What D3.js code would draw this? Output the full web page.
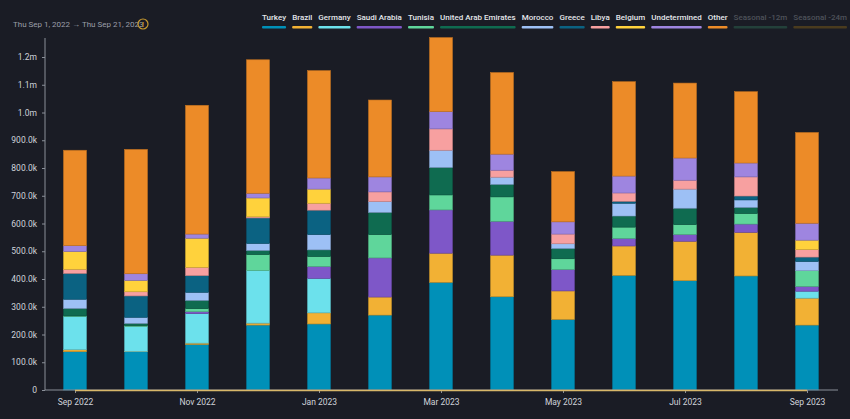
<!DOCTYPE html>
<html><head><meta charset="utf-8">
<script src="https://cdn.jsdelivr.net/npm/d3@7"></script>
<style>
body{margin:0;background:#1a1c25;}
text{font-family:Roboto,"Noto Sans",sans-serif;}
</style></head>
<body><svg width="850" height="419"></svg>
<script>
var months = ["Sep 2022","Oct 2022","Nov 2022","Dec 2022","Jan 2023","Feb 2023","Mar 2023","Apr 2023","May 2023","Jun 2023","Jul 2023","Aug 2023","Sep 2023"];
var seriesNames = ["Turkey","Brazil","Germany","Saudi Arabia","Tunisia","United Arab Emirates","Morocco","Greece","Libya","Belgium","Undetermined","Other"];
var ghostNames = ["Seasonal -12m","Seasonal -24m"];
// values in thousands, one per month
var turkey      = [138,138,164,234,238,270,388,336,254,413,394,411,234];
var brazil      = [7,1,5,7,40,65,105,150,103,106,142,157,97];
var germany     = [120,90,106,190,124,0,0,0,0,0,0,0,25];
var saudi       = [0,0,7,0,43,141,156,122,77,27,24,30,17];
var tunisia     = [2,3,11,57,36,84,54,88,39,41,36,38,57];
var uae         = [27,8,30,15,24,80,99,45,37,40,59,22,0];
var morocco     = [33,22,29,25,55,39,62,26,17,46,69,27,33];
var greece      = [93,77,60,92,88,0,0,0,0,7,0,14,16];
var libya       = [15,15,30,4,25,35,77,25,35,30,32,69,27];
var belgium     = [64,41,105,68,51,0,0,0,0,0,0,0,34];
var undetermined= [21,24,15,17,40,54,62,58,44,61,80,50,61];
var other       = [344,448,464,481,387,277,267,294,181,340,270,257,327];
var tickLabels = ["0","100.0k","200.0k","300.0k","400.0k","500.0k","600.0k","700.0k","800.0k","900.0k","1.0m","1.1m","1.2m"];
var colors = ["#0090b8","#f2b134","#6ce1ec","#7e57c8","#5fd69b","#0f6b50","#9dc0f5","#0b6282","#f7a0a0","#ffd23c","#9e85e0","#ec8b28"];
var ghostColors = ["#23403a","#4a3b1e"];

var all = [turkey,brazil,germany,saudi,tunisia,uae,morocco,greece,libya,belgium,undetermined,other];
var rows = months.map(function(m,i){
  var r = {month:m};
  seriesNames.forEach(function(s,j){ r[s] = all[j][i]; });
  return r;
});

var svg = d3.select("svg");
svg.append("rect").attr("width",850).attr("height",419).attr("fill","#1a1c25");

var x = d3.scalePoint().domain(months).range([44.5,837.5]).padding(0.5);
var y = d3.scaleLinear().domain([0,1200]).range([390,57]);
var bw = 23;

var stack = d3.stack().keys(seriesNames)(rows);

svg.append("g").selectAll("g").data(stack).enter().append("g")
  .attr("fill",function(d,i){ return colors[i]; })
  .attr("stroke",function(d,i){ return d3.color(colors[i]).darker(0.6); })
  .attr("stroke-width",0.6)
  .selectAll("rect").data(function(d){ return d; }).enter().append("rect")
  .attr("x",function(d){ return x(d.data.month)-bw/2; })
  .attr("width",bw)
  .attr("y",function(d){ return y(d[1]); })
  .attr("height",function(d){ return y(d[0])-y(d[1]); });

// y axis
var ya = svg.append("g").attr("transform","translate(45,0)")
  .call(d3.axisLeft(y).tickValues(d3.range(0,1201,100)).tickFormat(function(d,i){ return tickLabels[i]; }).tickSize(3).tickPadding(5));
ya.select(".domain").attr("stroke","#8a8f99").attr("d","M0,38V390");
ya.selectAll("line").attr("stroke","#8a8f99");
ya.selectAll("text").attr("fill","#d0d3da").style("font-size","8.5px").style("font-family","Roboto");

// x axis
var xa = svg.append("g").attr("transform","translate(0,390)")
  .call(d3.axisBottom(x).tickValues(months.filter(function(d,i){ return i%2===0; })).tickSize(3).tickPadding(6));
xa.select(".domain").attr("stroke","#8a8f99").attr("d","M45,0H838");
xa.selectAll("line").attr("stroke","#8a8f99");
xa.selectAll("text").attr("fill","#d0d3da").style("font-size","8.5px").style("font-family","Roboto");
svg.append("line").attr("x1",x(months[0])).attr("x2",x(months[12])).attr("y1",390.5).attr("y2",390.5)
  .attr("stroke","#d9b86a").attr("stroke-width",1.3);

// header
svg.append("text").attr("x",13).attr("y",27).attr("fill","#9a9ea8").style("font-size","8px")
  .text("Thu Sep 1, 2022  \u2192  Thu Sep 21, 2023");
svg.append("circle").attr("cx",143).attr("cy",24).attr("r",5).attr("fill","none").attr("stroke","#c99a2e").attr("stroke-width",1.2);
svg.append("text").attr("x",143).attr("y",27).attr("text-anchor","middle").attr("fill","#c99a2e").style("font-size","7px").style("font-weight","bold").text("!");

// legend
var leg = svg.append("g");
var names = seriesNames.concat(ghostNames), lcol = colors.concat(ghostColors);
var items = leg.selectAll("g").data(names).enter().append("g");
items.append("text").attr("y",20).attr("fill",function(d,i){ return i<12 ? "#e4e6ea" : "#4e525a"; })
  .style("font-size","8px").style("font-weight","500").text(function(d){ return d; });
var widths = [];
items.each(function(){ widths.push(d3.select(this).select("text").node().getComputedTextLength()); });
var gap = Math.max(2, (847 - 262 - d3.sum(widths)) / (names.length - 1));
var pos = 262;
items.each(function(d,i){
  var g = d3.select(this), w = widths[i];
  g.attr("transform","translate("+pos+",0)");
  g.append("rect").attr("y",26).attr("width",w).attr("height",2.5).attr("rx",1).attr("fill",lcol[i]);
  pos += w + gap;
});
</script></body></html>
